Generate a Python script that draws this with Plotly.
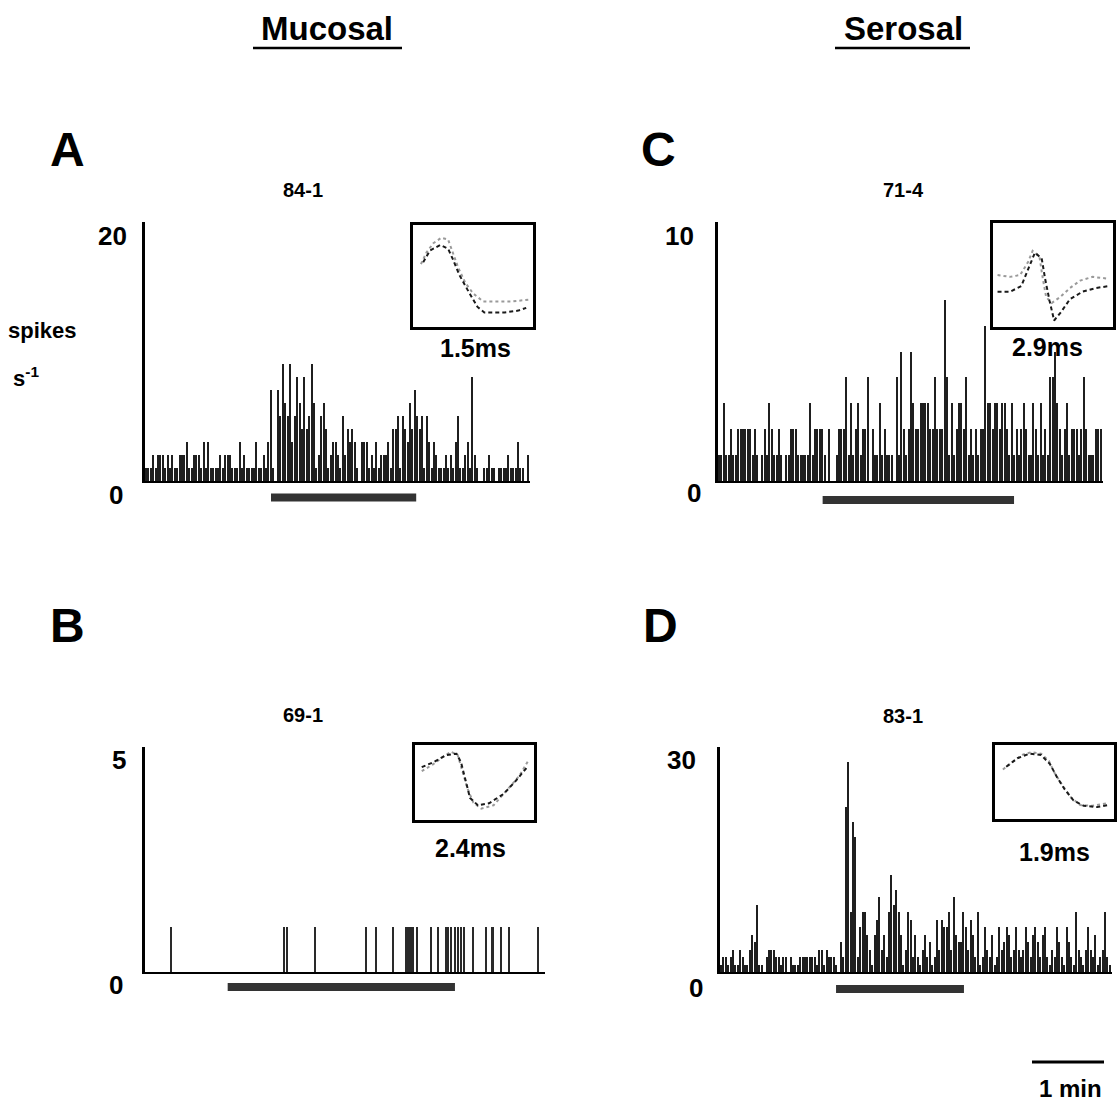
import plotly.graph_objects as go

W, H = 1118, 1110
FONT = "Liberation Sans, Arial, Helvetica, sans-serif"

# ---------------- data ----------------
BIN_S = 2.0          # histogram bin width (s)
SCALE_BAR_S = 60     # "1 min" scale bar

# Panel A (84-1, mucosal) spikes/s per 2-s bin
a_counts = [1,1,1,2,1,2,2,2,1,2, 1,2,1,1,2,2,2,3,1,1, 2,2,2,1,3,1,3,1,1,1,
            1,2,1,2,2,2,1,1,1,3, 1,2,1,1,1,1,3,1,1,2, 1,3,
            7,1,0,7,5,9,6,5,9,3, 5,8,6,4,8,4,5,9,6,1, 2,5,6,4,1,2,3,
            3,2,1,5,2,4,3,4,3,1, 0,3,3,3,1,2,1,3,1,2, 2,2,3,1,4,4,5,1,5,4,
            3,6,4,7,5,4,5,1,5,3, 1,3,2,1,1,1,2,1,2,1, 3,5,1,1,2,3,1,8,2,1,
            0,0,1,1,2,1,1,0,1,1, 1,1,2,1,1,1,3,1,1,0, 2]
a_stim = [105.0, 226.0]

# Panel B (69-1, mucosal) individual spike times (s)
b_spike_times = [21.7, 116.1, 118.1, 141.7, 184.2, 192.2, 206.9, 217.2, 218.6, 220.0,
                 221.4, 223.0, 226.9, 238.3, 244.4, 250.8, 252.8, 254.7, 258.3, 261.1,
                 263.3, 266.1, 273.6, 284.2, 288.9, 290.3, 296.7, 303.3, 327.8]
b_heights = [1,1,1,1,1,1,1,1,1,1, 1,1,1,1,1,1,1,1,1,1, 1,1,1,1,1,1,1,1,1]
b_stim = [68.9, 258.3]

# Panel C (71-4, serosal)
c_counts = [1,1,3,1,1,2,1,1,2,2, 2,2,2,2,1,2,1,0,1,2, 1,3,2,1,1,2,1,0,1,1,
            2,2,2,1,1,1,1,1,3,1, 2,2,2,2,1,0,2,0,0,1, 2,2,2,4,1,3,1,2,3,1,
            2,2,4,0,2,1,1,3,1,2, 1,1,1,0,4,1,5,2,1,2, 5,3,2,
            2,3,3,3,3,2,2,4,2,2, 2,7,4,1,3,1,2,3,3,2, 4,1,2,1,2,1,2,2,6,3,
            3,2,3,3,2,3,3,2,1,3, 1,2,1,2,3,2,1,1,3,2, 1,3,1,2,1,4,4,5,3,2,
            1,2,3,1,2,2,2,1,2,4, 2,1,1,1,2,2,2]
c_stim = [87.2, 246.7]

# Panel D (83-1, serosal)
d_counts = [1,2,2,1,2,3,1,1,3,2, 1,1,3,5,4,9,1,1,0,2, 3,3,3,2,2,1,2,2,0,2,
            1,1,1,2,2,2,2,2,2,2, 1,3,3,1,3,2,2,2,1,0, 4,2,22,28,8,20,18,2,6,8,
            8,5,3,1,5,7,10,3,5,2, 8,13,9,11,8,5,1,3,8,7, 2,
            5,2,1,3,5,2,4,1,2,7, 3,7,6,6,8,3,10,5,4,4, 8,6,3,7,5,2,8,1,2,6,
            3,2,5,1,2,6,3,4,6,5, 2,3,6,3,2,3,6,4,2,5, 6,4,2,5,6,2,1,3,2,6,
            4,2,1,6,4,2,1,8,3,2, 1,3,6,3,2,5,1,2,3,8, 2,1]
d_stim = [96.7, 203.3]
scale_bar_start = 260.0

# Inset spike waveforms (normalised time, normalised amplitude)
a_wave_gray_t = [0.04,0.09,0.15,0.22,0.28,0.32,0.37,0.43,0.50,0.59,0.69,0.84,0.99]
a_wave_gray_v = [0.63,0.76,0.86,0.92,0.90,0.76,0.59,0.43,0.31,0.22,0.22,0.22,0.24]
a_wave_dark_t = [0.06,0.12,0.21,0.28,0.32,0.38,0.46,0.54,0.60,0.78,0.90,0.97]
a_wave_dark_v = [0.65,0.78,0.84,0.80,0.69,0.51,0.33,0.16,0.10,0.10,0.12,0.15]

b_wave_gray_t = [0.03,0.13,0.21,0.29,0.35,0.39,0.44,0.49,0.56,0.67,0.80,0.90,0.98]
b_wave_gray_v = [0.67,0.77,0.87,0.96,0.91,0.67,0.40,0.20,0.11,0.16,0.40,0.60,0.83]
b_wave_dark_t = [0.03,0.13,0.25,0.34,0.38,0.42,0.46,0.53,0.63,0.76,0.87,0.97]
b_wave_dark_v = [0.73,0.80,0.91,0.93,0.80,0.53,0.27,0.16,0.19,0.33,0.53,0.73]

c_wave_gray_t = [0.01,0.12,0.21,0.28,0.32,0.38,0.41,0.44,0.49,0.56,0.65,0.74,0.85,0.99]
c_wave_gray_v = [0.50,0.48,0.50,0.64,0.76,0.70,0.46,0.26,0.20,0.26,0.36,0.44,0.48,0.46]
c_wave_dark_t = [0.01,0.12,0.22,0.29,0.34,0.40,0.43,0.47,0.51,0.57,0.65,0.76,0.88,0.99]
c_wave_dark_v = [0.32,0.32,0.38,0.58,0.74,0.68,0.46,0.22,0.01,0.10,0.24,0.32,0.36,0.38]

d_wave_gray_t = [0.04,0.13,0.21,0.29,0.38,0.45,0.50,0.57,0.65,0.73,0.84,0.97]
d_wave_gray_v = [0.69,0.80,0.91,0.95,0.93,0.82,0.64,0.45,0.26,0.15,0.14,0.18]
d_wave_dark_t = [0.07,0.17,0.28,0.38,0.46,0.52,0.59,0.67,0.76,0.88,0.97]
d_wave_dark_v = [0.73,0.86,0.93,0.91,0.77,0.58,0.39,0.22,0.14,0.12,0.15]

# ---------------- layout helpers ----------------
def fx(px):
    return px / W

def fy(py):
    return 1 - py / H

PX_PER_S = 72 / 60.0   # from the 1-min scale bar

panels = [
    dict(name="A", x="x", y="y", xpx=(145, 530), ypx=(481, 222), ymax=20, stim=a_stim, stim_y=497.5,
         title="84-1", tpos=(303, 190), lpos=(67, 150),
         top_lab=("20", 129, -14), zero_lab=("0", 125, -14)),
    dict(name="B", x="x2", y="y2", xpx=(145, 545), ypx=(972, 747), ymax=5, stim=b_stim, stim_y=987,
         title="69-1", tpos=(303, 715), lpos=(67, 625),
         top_lab=("5", 128, -13), zero_lab=("0", 125, -13)),
    dict(name="C", x="x3", y="y3", xpx=(718, 1103), ypx=(481, 222), ymax=10, stim=c_stim, stim_y=500,
         title="71-4", tpos=(903, 190), lpos=(658, 150),
         top_lab=("10", 696, -14), zero_lab=("0", 703, -12)),
    dict(name="D", x="x4", y="y4", xpx=(720, 1112), ypx=(972, 747), ymax=30, stim=d_stim, stim_y=989,
         title="83-1", tpos=(903, 716), lpos=(660, 625),
         top_lab=("30", 698, -13), zero_lab=("0", 705, -16)),
]

insets = [
    dict(x="x5", y="y5", box=(413, 533, 225, 327), lab="1.5ms", lpos=(475, 348),
         g=(a_wave_gray_t, a_wave_gray_v), d=(a_wave_dark_t, a_wave_dark_v)),
    dict(x="x6", y="y6", box=(415, 534, 745, 820), lab="2.4ms", lpos=(470, 848),
         g=(b_wave_gray_t, b_wave_gray_v), d=(b_wave_dark_t, b_wave_dark_v)),
    dict(x="x7", y="y7", box=(993, 1113, 223, 327), lab="2.9ms", lpos=(1047, 347),
         g=(c_wave_gray_t, c_wave_gray_v), d=(c_wave_dark_t, c_wave_dark_v)),
    dict(x="x8", y="y8", box=(995, 1114, 745, 819), lab="1.9ms", lpos=(1054, 852),
         g=(d_wave_gray_t, d_wave_gray_v), d=(d_wave_dark_t, d_wave_dark_v)),
]

fig = go.Figure()
layout = dict(width=W, height=H, margin=dict(l=0, r=0, t=0, b=0),
              paper_bgcolor="white", plot_bgcolor="rgba(0,0,0,0)",
              showlegend=False, bargap=0, barmode="overlay",
              font=dict(family=FONT, color="black"))
annotations = []
shapes = []

def ax_name(ref):
    return ("xaxis" if ref[0] == "x" else "yaxis") + ref[1:]

BAR_COLOR = "#1f1f1f"
count_map = {"A": a_counts, "C": c_counts, "D": d_counts}

for p in panels:
    if p["name"] == "B":
        fig.add_trace(go.Bar(x=b_spike_times, y=b_heights, width=0.85,
                             marker=dict(color="#2a2a2a", line=dict(width=0)),
                             xaxis=p["x"], yaxis=p["y"], hoverinfo="skip"))
    else:
        counts = count_map[p["name"]]
        centers = [BIN_S * (i + 0.5) for i in range(len(counts))]
        fig.add_trace(go.Bar(x=centers, y=counts, width=BIN_S * 0.62,
                             marker=dict(color=BAR_COLOR, line=dict(width=0)),
                             xaxis=p["x"], yaxis=p["y"], hoverinfo="skip"))
    x0, x1 = p["xpx"]
    yb, yt = p["ypx"]
    layout[ax_name(p["x"])] = dict(domain=[fx(x0), fx(x1)], anchor=p["y"],
                                   range=[0, (x1 - x0) / PX_PER_S],
                                   showline=True, linecolor="black", linewidth=2,
                                   showgrid=False, zeroline=False, ticks="",
                                   showticklabels=False, fixedrange=True)
    layout[ax_name(p["y"])] = dict(domain=[fy(yb), fy(yt)], anchor=p["x"],
                                   range=[0, p["ymax"]],
                                   showline=True, linecolor="black", linewidth=3,
                                   showgrid=False, zeroline=False,
                                   ticks="inside", tickvals=[p["ymax"]], ticklen=5,
                                   tickwidth=3, tickcolor="black",
                                   showticklabels=False, fixedrange=True)
    # stimulus bar
    shapes.append(dict(type="line", xref=p["x"], yref="paper",
                       x0=p["stim"][0], x1=p["stim"][1],
                       y0=fy(p["stim_y"]), y1=fy(p["stim_y"]),
                       line=dict(color="#333333", width=8)))
    # y tick labels
    for lab, val in ((p["top_lab"], p["ymax"]), (p["zero_lab"], 0)):
        annotations.append(dict(text="<b>%s</b>" % lab[0], xref="paper", yref=p["y"],
                                x=fx(lab[1]), y=val, xanchor="right", yanchor="middle",
                                yshift=lab[2], showarrow=False,
                                font=dict(size=26, family=FONT, color="black")))
    # panel title and letter
    annotations.append(dict(text="<b>%s</b>" % p["title"], xref="paper", yref="paper",
                            x=fx(p["tpos"][0]), y=fy(p["tpos"][1]),
                            xanchor="center", yanchor="middle", showarrow=False,
                            font=dict(size=20, family=FONT, color="black")))
    annotations.append(dict(text="<b>%s</b>" % p["name"], xref="paper", yref="paper",
                            x=fx(p["lpos"][0]), y=fy(p["lpos"][1]),
                            xanchor="center", yanchor="middle", showarrow=False,
                            font=dict(size=48, family=FONT, color="black")))

for ins in insets:
    gt, gv = ins["g"]
    dt, dv = ins["d"]
    fig.add_trace(go.Scatter(x=gt, y=gv, mode="lines", xaxis=ins["x"], yaxis=ins["y"],
                             line=dict(color="#9a9a9a", width=2, dash="dot"),
                             hoverinfo="skip"))
    fig.add_trace(go.Scatter(x=dt, y=dv, mode="lines", xaxis=ins["x"], yaxis=ins["y"],
                             line=dict(color="#1a1a1a", width=2, dash="4px,3px"),
                             hoverinfo="skip"))
    bx0, bx1, by0, by1 = ins["box"]
    common = dict(showline=True, mirror=True, linecolor="black", linewidth=3,
                  showgrid=False, zeroline=False, ticks="", showticklabels=False,
                  fixedrange=True)
    layout[ax_name(ins["x"])] = dict(domain=[fx(bx0), fx(bx1)], anchor=ins["y"],
                                     range=[-0.03, 1.03], **common)
    layout[ax_name(ins["y"])] = dict(domain=[fy(by1), fy(by0)], anchor=ins["x"],
                                     range=[-0.06, 1.06], **common)
    annotations.append(dict(text="<b>%s</b>" % ins["lab"], xref="paper", yref="paper",
                            x=fx(ins["lpos"][0]), y=fy(ins["lpos"][1]),
                            xanchor="center", yanchor="middle", showarrow=False,
                            font=dict(size=25, family=FONT, color="black")))

# column headers with underline
for txt, cx, ux0, ux1 in (("Mucosal", 327, 253, 402), ("Serosal", 903, 835, 970)):
    annotations.append(dict(text="<b>%s</b>" % txt, xref="paper", yref="paper",
                            x=fx(cx), y=fy(29), xanchor="center", yanchor="middle",
                            showarrow=False, font=dict(size=33, family=FONT, color="black")))
    shapes.append(dict(type="line", xref="paper", yref="paper", x0=fx(ux0), x1=fx(ux1),
                       y0=fy(48), y1=fy(48), line=dict(color="black", width=2.5)))

# y-axis unit label
annotations.append(dict(text="<b>spikes</b>", xref="paper", yref="paper",
                        x=fx(42), y=fy(330), xanchor="center", yanchor="middle",
                        showarrow=False, font=dict(size=22, family=FONT, color="black")))
annotations.append(dict(text="<b>s<sup>-1</sup></b>", xref="paper", yref="paper",
                        x=fx(11), y=fy(377), xanchor="left", yanchor="middle",
                        showarrow=False, font=dict(size=22, family=FONT, color="black")))

# 1-min scale bar (drawn on panel D's time axis)
shapes.append(dict(type="line", xref="x4", yref="paper",
                   x0=scale_bar_start, x1=scale_bar_start + SCALE_BAR_S,
                   y0=fy(1062), y1=fy(1062), line=dict(color="black", width=3)))
annotations.append(dict(text="<b>1 min</b>", xref="paper", yref="paper",
                        x=fx(1070), y=fy(1088), xanchor="center", yanchor="middle",
                        showarrow=False, font=dict(size=24, family=FONT, color="black")))

layout["annotations"] = annotations
layout["shapes"] = shapes
fig.update_layout(**layout)
fig.write_html("out.html", config={"displayModeBar": False})
